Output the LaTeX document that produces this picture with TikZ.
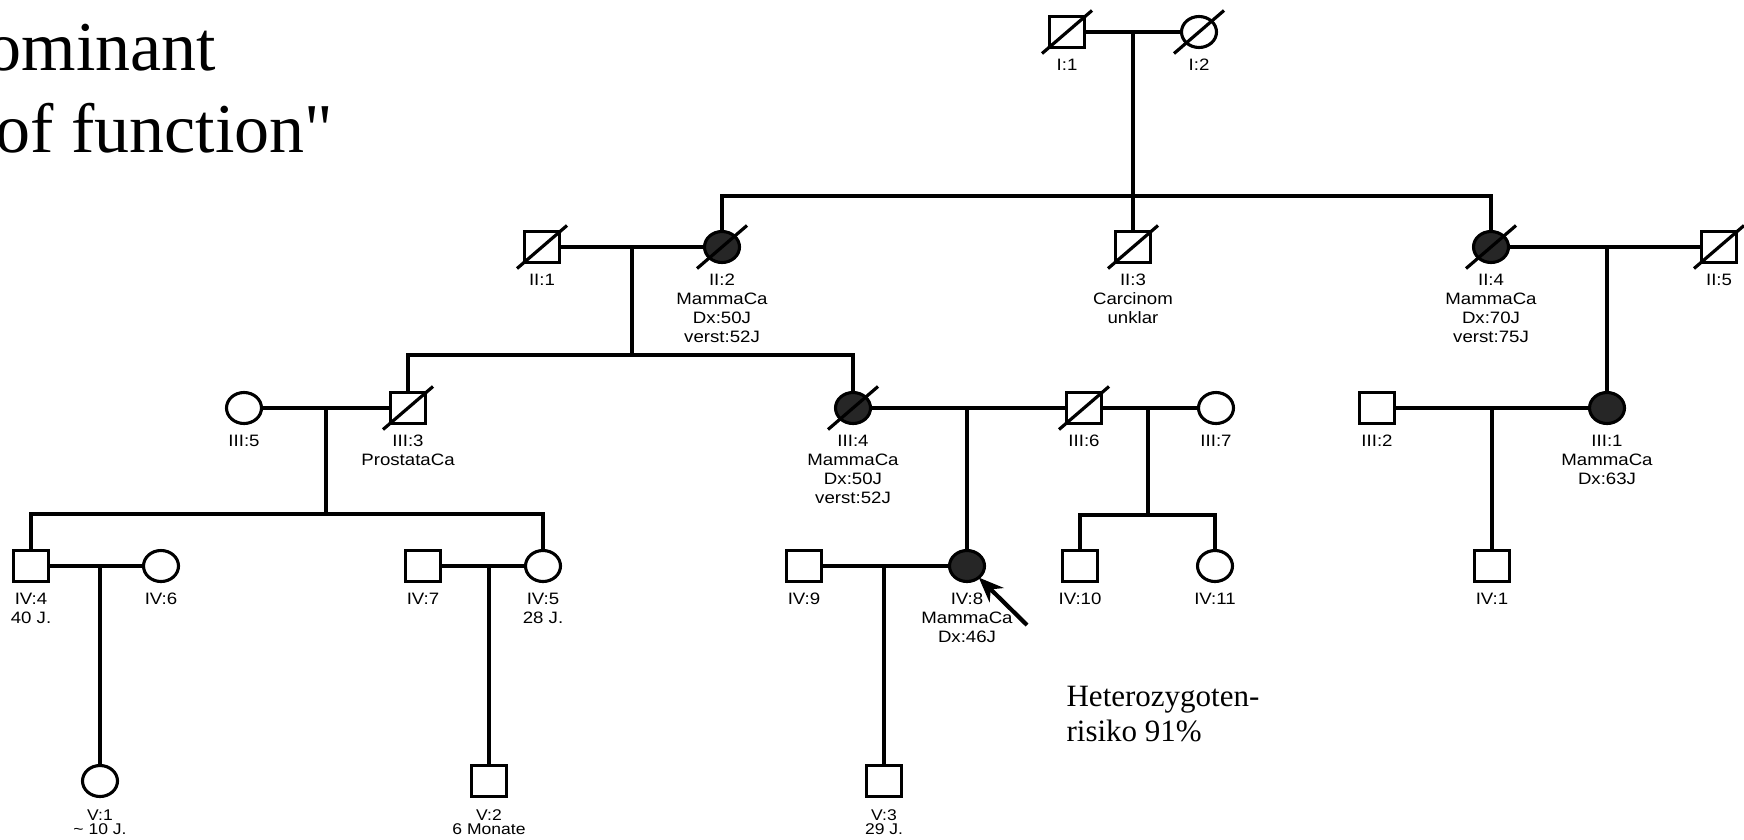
\documentclass[tikz,border=0pt]{standalone}
\usepackage{fontspec}
\setmainfont{Liberation Serif}[Ligatures=TeXOff]
\newfontfamily\pedfont[FakeStretch=1.13]{Liberation Sans}
\usetikzlibrary{arrows.meta,positioning,shapes.geometric}

\begin{document}
\begin{tikzpicture}
        [
            x = 1pt, y = -1pt,
            line width = 3.2pt,
            node distance = 10pt,
            person/.style = {
                draw, line width=3.1pt, inner sep=0pt, outer sep=0pt,
                minimum width=35pt, minimum height=31pt},
            male/.style = {person, rectangle},
            female/.style = {person, ellipse},
            aff/.style = {fill=black!85},
            dead/.style = {append after command={
                ([shift={(-25pt,-21.5pt)}]\tikzlastnode.center) edge
                ([shift={(25pt,21.5pt)}]\tikzlastnode.center)}},
            lab/.style = {font=\pedfont\fontsize{16.5}{19}\selectfont,
                align=center, inner sep=0pt},
            vlab/.style = {lab, font=\pedfont\fontsize{15.5}{14}\selectfont},
            proband/.style = {-{Stealth[length=25pt,width=20pt]}, line width=4.2pt}
        ]
        \useasboundingbox (0,0) rectangle (1744,839);
        \clip (0,0) rectangle (1744,839);
        \node [font=\fontsize{70}{85}\selectfont, anchor=base west, inner sep=0pt] (title1) at (-15,70) {ominant};
        \node [font=\fontsize{70}{85}\selectfont, anchor=base west, inner sep=0pt] (title2) at (-6,152) {of function"};
        \node [font=\fontsize{31}{35}\selectfont, anchor=north west, align=left, inner sep=0pt] (risk) at (1065,685) {Heterozygoten-\\risiko 91\%};

        \node [male, dead] (I1) at (1067,32) {};
        \node [female, dead] (I2) at (1199,32) {};

        \node [male, dead] (II1) at (542,247) {};
        \node [female, aff, dead] (II2) at (722,247) {};
        \node [male, dead] (II3) at (1133,247) {};
        \node [female, aff, dead] (II4) at (1491,247) {};
        \node [male, dead] (II5) at (1719,247) {};

        \node [female] (III5) at (244,408) {};
        \node [male, dead] (III3) at (408,408) {};
        \node [female, aff, dead] (III4) at (853,408) {};
        \node [male, dead] (III6) at (1084,408) {};
        \node [female] (III7) at (1216,408) {};
        \node [male] (III2) at (1377,408) {};
        \node [female, aff] (III1) at (1607,408) {};

        \node [male] (IV4) at (31,566) {};
        \node [female] (IV6) at (161,566) {};
        \node [male] (IV7) at (423,566) {};
        \node [female] (IV5) at (543,566) {};
        \node [male] (IV9) at (804,566) {};
        \node [female, aff] (IV8) at (967,566) {};
        \node [male] (IV10) at (1080,566) {};
        \node [female] (IV11) at (1215,566) {};
        \node [male] (IV1) at (1492,566) {};

        \node [female] (V1) at (100,781) {};
        \node [male] (V2) at (489,781) {};
        \node [male] (V3) at (884,781) {};

        \node [lab, below=of I1] (I1t) {I:1};
        \node [lab, below=of I2] (I2t) {I:2};
        \node [lab, below=of II1] (II1t) {II:1};
        \node [lab, below=of II2] (II2t) {II:2\\MammaCa\\Dx:50J\\verst:52J};
        \node [lab, below=of II3] (II3t) {II:3\\Carcinom\\unklar};
        \node [lab, below=of II4] (II4t) {II:4\\MammaCa\\Dx:70J\\verst:75J};
        \node [lab, below=of II5] (II5t) {II:5};
        \node [lab, below=of III5] (III5t) {III:5};
        \node [lab, below=of III3] (III3t) {III:3\\ProstataCa};
        \node [lab, below=of III4] (III4t) {III:4\\MammaCa\\Dx:50J\\verst:52J};
        \node [lab, below=of III6] (III6t) {III:6};
        \node [lab, below=of III7] (III7t) {III:7};
        \node [lab, below=of III2] (III2t) {III:2};
        \node [lab, below=of III1] (III1t) {III:1\\MammaCa\\Dx:63J};
        \node [lab, below=of IV4] (IV4t) {IV:4\\40 J.};
        \node [lab, below=of IV6] (IV6t) {IV:6};
        \node [lab, below=of IV7] (IV7t) {IV:7};
        \node [lab, below=of IV5] (IV5t) {IV:5\\28 J.};
        \node [lab, below=of IV9] (IV9t) {IV:9};
        \node [lab, below=of IV8] (IV8t) {IV:8\\MammaCa\\Dx:46J};
        \node [lab, below=of IV10] (IV10t) {IV:10};
        \node [lab, below=of IV11] (IV11t) {IV:11};
        \node [lab, below=of IV1] (IV1t) {IV:1};
        \node [vlab, below=12pt of V1] (V1t) {V:1\\\textasciitilde{} 10 J.};
        \node [vlab, below=12pt of V2] (V2t) {V:2\\6 Monate};
        \node [vlab, below=12pt of V3] (V3t) {V:3\\29 J.};

        \coordinate (m1) at (1133,32);
        \coordinate (s2) at (1133,196);
        \coordinate (m2) at (632,247);
        \coordinate (s3) at (632,355);
        \coordinate (m3) at (1607,247);
        \coordinate (m4) at (326,408);
        \coordinate (s4a) at (326,514);
        \coordinate (m5) at (967,408);
        \coordinate (m6) at (1148,408);
        \coordinate (s4b) at (1148,515);
        \coordinate (m7) at (1492,408);
        \coordinate (m8) at (100,566);
        \coordinate (m9) at (489,566);
        \coordinate (m10) at (884,566);
        \coordinate (prb) at (1027,625);

        \draw (I1) -- (I2);
        \draw (m1) -- (II3);
        \draw (II2) |- (s2) -| (II4);
        \draw (II1) -- (II2);
        \draw (m2) -- (s3);
        \draw (III3) |- (s3) -| (III4);
        \draw (II4) -- (II5);
        \draw (m3) -- (III1);
        \draw (III5) -- (III3);
        \draw (m4) -- (s4a);
        \draw (IV4) |- (s4a) -| (IV5);
        \draw (III4) -- (III6);
        \draw (III6) -- (III7);
        \draw (m5) -- (IV8);
        \draw (m6) -- (s4b);
        \draw (IV10) |- (s4b) -| (IV11);
        \draw (III2) -- (III1);
        \draw (m7) -- (IV1);
        \draw (IV4) -- (IV6);
        \draw (m8) -- (V1);
        \draw (IV7) -- (IV5);
        \draw (m9) -- (V2);
        \draw (IV9) -- (IV8);
        \draw (m10) -- (V3);
        \draw [proband] (prb) -- (IV8);
    \end{tikzpicture}
\end{document}
